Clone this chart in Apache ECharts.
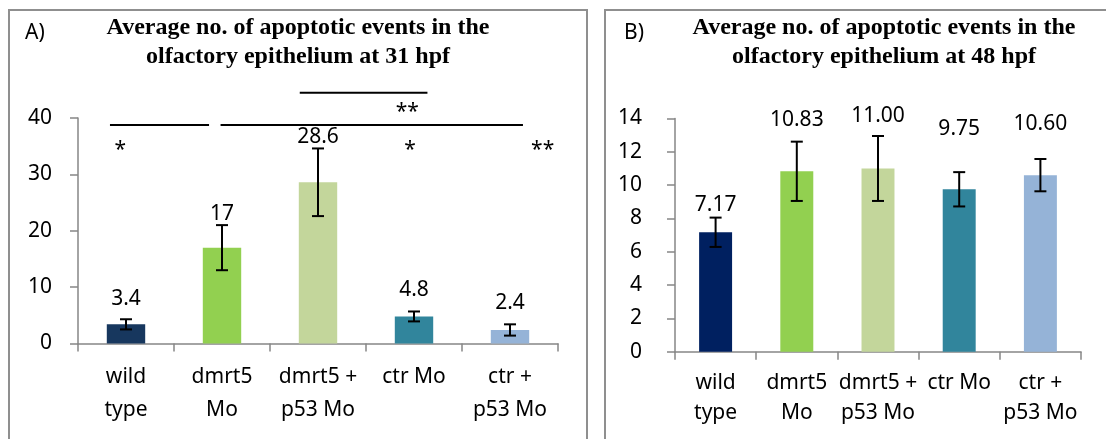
<!DOCTYPE html>
<html>
<head>
<meta charset="utf-8">
<script src="https://cdn.jsdelivr.net/npm/echarts@6.0.0/dist/echarts.min.js"></script>
<style>
  html, body { margin: 0; padding: 0; background: #fff; }
  #chart { width: 1106px; height: 439px; }
</style>
</head>
<body>
<div id="chart"></div>
<script>
  // categories shared by both panels
  var categories = ['wild\ntype', 'dmrt5\nMo', 'dmrt5 +\np53 Mo', 'ctr Mo', 'ctr +\np53 Mo'];

  // panel A, 31 hpf
  var meanA = [3.4, 17, 28.6, 4.8, 2.4];
  var errA = [0.9, 4.0, 6.0, 0.88, 1.0];
  var labelA = ['3.4', '17', '28.6', '4.8', '2.4'];

  // panel B, 48 hpf
  var meanB = [7.17, 10.83, 11.00, 9.75, 10.60];
  var errB = [0.88, 1.78, 1.95, 1.03, 0.97];
  var labelB = ['7.17', '10.83', '11.00', '9.75', '10.60'];

  // significance marks in panel A: x in category units (0..5), y in axis units
  var sigLines = [[0.333, 1.365, 38.74], [1.485, 4.635, 38.74], [2.31, 3.64, 44.47]];
  var sigStars = [[0.44, 34.3], [3.43, 41.0], [3.46, 34.3], [4.84, 34.3]];
  var sigText = ['*', '**', '*', '**'];

  var colorsA = ['#17375E', '#92D050', '#C3D69B', '#31859C', '#95B3D7'];
  var colorsB = ['#002060', '#92D050', '#C3D69B', '#31859C', '#95B3D7'];

  // label lift above bar (layout only)
  var liftA = [14, 23, 34, 15, 16];
  var liftB = [16, 40, 41, 49, 40];

  var FONT = 'Noto Sans';
  var AXIS = '#868686';

  function barData(means, labels, colors, lift) {
    return means.map(function (v, i) {
      return {
        value: v,
        itemStyle: { color: colors[i] },
        label: { formatter: labels[i], distance: lift[i] }
      };
    });
  }

  function errorSeries(xi, yi, means, errs) {
    return {
      type: 'custom',
      xAxisIndex: xi,
      yAxisIndex: yi,
      z: 5,
      silent: true,
      data: means.map(function (m, i) { return [i, m - errs[i], m + errs[i]]; }),
      encode: { x: 0, y: [1, 2] },
      renderItem: function (params, api) {
        var lo = api.coord([api.value(0), api.value(1)]);
        var hi = api.coord([api.value(0), api.value(2)]);
        var w = 6;
        var st = { stroke: '#000', lineWidth: 2 };
        return {
          type: 'group',
          children: [
            { type: 'line', shape: { x1: hi[0], y1: hi[1], x2: lo[0], y2: lo[1] }, style: st },
            { type: 'line', shape: { x1: hi[0] - w, y1: hi[1], x2: hi[0] + w, y2: hi[1] }, style: st },
            { type: 'line', shape: { x1: lo[0] - w, y1: lo[1], x2: lo[0] + w, y2: lo[1] }, style: st }
          ]
        };
      }
    };
  }

  function catAxis(grid, lineH, margin) {
    return {
      type: 'category',
      gridIndex: grid,
      data: categories,
      axisLine: { show: true, lineStyle: { color: AXIS, width: 1.5 } },
      axisTick: { show: true, length: 8, lineStyle: { color: AXIS, width: 1.5 } },
      axisLabel: {
        interval: 0, color: '#000', fontFamily: FONT, fontSize: 21,
        lineHeight: lineH, margin: margin, verticalAlign: 'top'
      },
      splitLine: { show: false }
    };
  }

  function valAxis(grid, max, step, margin) {
    return {
      type: 'value',
      gridIndex: grid,
      min: 0, max: max, interval: step,
      axisLine: { show: true, lineStyle: { color: AXIS, width: 1.5 } },
      axisTick: { show: true, length: 8, lineStyle: { color: AXIS, width: 1.5 } },
      axisLabel: { color: '#000', fontFamily: FONT, fontSize: 21, margin: margin },
      splitLine: { show: false }
    };
  }

  var titleStyle = {
    fontFamily: 'Liberation Serif', fontWeight: 'bold', fontSize: 24,
    lineHeight: 29, color: '#000'
  };
  var tagStyle = { fontFamily: FONT, fontWeight: 'normal', fontSize: 21, color: '#000' };

  var chart = echarts.init(document.getElementById('chart'), null, { renderer: 'canvas' });

  var option = {
    backgroundColor: '#fff',
    animation: false,
    title: [
      { text: 'Average no. of apoptotic events in the\nolfactory epithelium at 31 hpf',
        left: 298, top: 13.5, padding: 0, textAlign: 'center', textStyle: titleStyle },
      { text: 'Average no. of apoptotic events in the\nolfactory epithelium at 48 hpf',
        left: 884, top: 13.5, padding: 0, textAlign: 'center', textStyle: titleStyle },
      { text: 'A)', left: 25, top: 23, padding: 0, textStyle: tagStyle },
      { text: 'B)', left: 624, top: 23, padding: 0, textStyle: tagStyle }
    ],
    graphic: [
      { type: 'rect', shape: { x: 9, y: 10, width: 578, height: 520 },
        style: { fill: 'none', stroke: '#8f8f8f', lineWidth: 2 }, z: 0 },
      { type: 'rect', shape: { x: 605, y: 10, width: 560, height: 520 },
        style: { fill: 'none', stroke: '#8f8f8f', lineWidth: 2 }, z: 0 }
    ],
    grid: [
      { left: 78, top: 118, width: 480, height: 225.5 },
      { left: 675, top: 118.5, width: 406, height: 233.2 }
    ],
    xAxis: [
      catAxis(0, 33, 17),
      catAxis(1, 30, 16),
      { type: 'value', gridIndex: 0, min: 0, max: 5, show: false }
    ],
    yAxis: [
      valAxis(0, 40, 10, 26),
      valAxis(1, 14, 2, 33)
    ],
    series: [
      {
        type: 'bar', xAxisIndex: 0, yAxisIndex: 0, barWidth: '40%',
        data: barData(meanA, labelA, colorsA, liftA),
        label: { show: true, position: 'top', color: '#000', fontFamily: FONT, fontSize: 21, lineHeight: 22 }
      },
      {
        type: 'bar', xAxisIndex: 1, yAxisIndex: 1, barWidth: '40.6%',
        data: barData(meanB, labelB, colorsB, liftB),
        label: { show: true, position: 'top', color: '#000', fontFamily: FONT, fontSize: 21, lineHeight: 22 }
      },
      errorSeries(0, 0, meanA, errA),
      errorSeries(1, 1, meanB, errB),
      {
        type: 'custom', xAxisIndex: 2, yAxisIndex: 0, silent: true,
        data: sigLines,
        encode: { x: [0, 1], y: 2 },
        renderItem: function (params, api) {
          var a = api.coord([api.value(0), api.value(2)]);
          var b = api.coord([api.value(1), api.value(2)]);
          return { type: 'line', shape: { x1: a[0], y1: a[1], x2: b[0], y2: b[1] },
                   style: { stroke: '#000', lineWidth: 2 } };
        }
      },
      {
        type: 'custom', xAxisIndex: 2, yAxisIndex: 0, silent: true,
        data: sigStars,
        encode: { x: 0, y: 1 },
        renderItem: function (params, api) {
          var p = api.coord([api.value(0), api.value(1)]);
          return { type: 'text', x: p[0], y: p[1],
                   style: { text: sigText[params.dataIndex], fill: '#000', fontFamily: FONT,
                            fontSize: 21, align: 'center', verticalAlign: 'middle' } };
        }
      }
    ]
  };

  chart.setOption(option);
  window.addEventListener('resize', function () { chart.resize(); });
</script>
</body>
</html>
